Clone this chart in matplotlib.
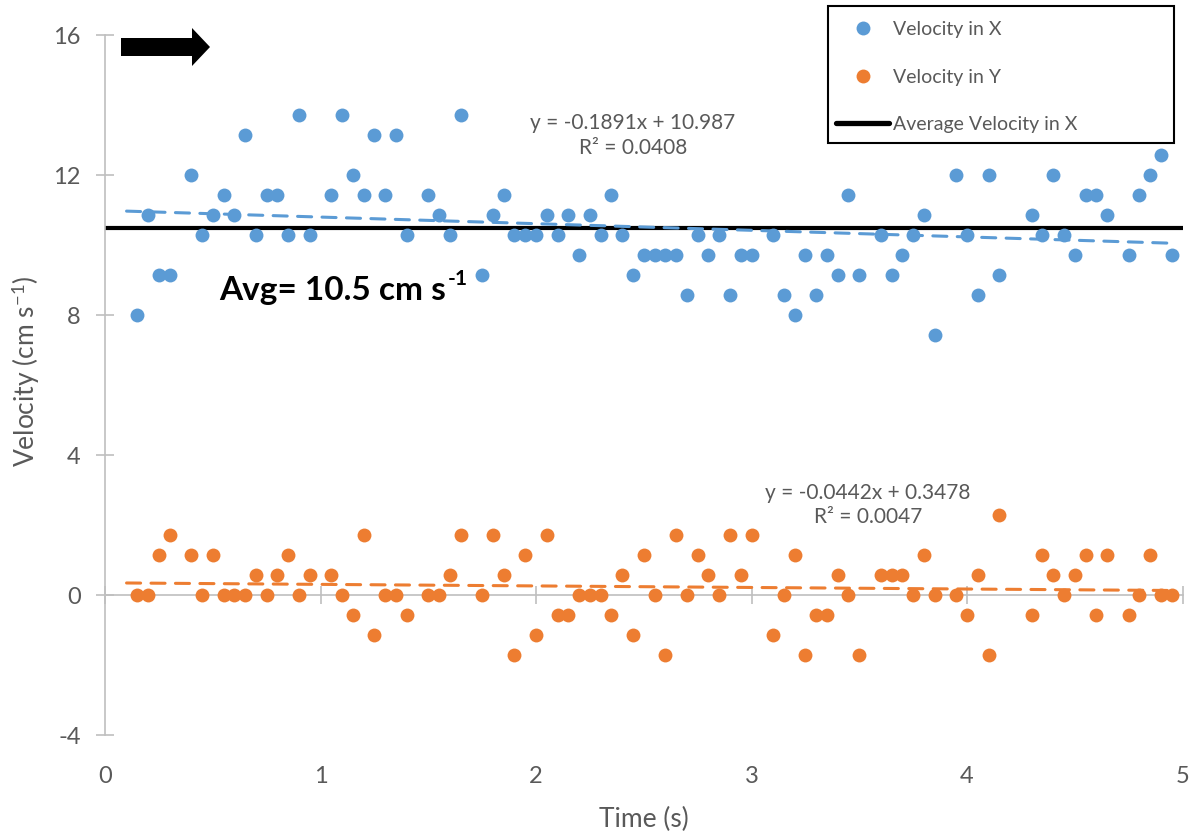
import numpy as np
import matplotlib
matplotlib.use("Agg")
import matplotlib.pyplot as plt
from matplotlib.lines import Line2D
from matplotlib.patches import FancyArrow, Rectangle

# time stamps (s) shared by both velocity components
time_s = [0.15, 0.2, 0.25, 0.3, 0.4, 0.45, 0.5, 0.55, 0.6, 0.65, 0.7, 0.75, 0.8, 0.85,
          0.9, 0.95, 1.05, 1.1, 1.15, 1.2, 1.25, 1.3, 1.35, 1.4, 1.5, 1.55, 1.6, 1.65,
          1.75, 1.8, 1.85, 1.9, 1.95, 2.0, 2.05, 2.1, 2.15, 2.2, 2.25, 2.3, 2.35, 2.4,
          2.45, 2.5, 2.55, 2.6, 2.65, 2.7, 2.75, 2.8, 2.85, 2.9, 2.95, 3.0, 3.1, 3.15,
          3.2, 3.25, 3.3, 3.35, 3.4, 3.45, 3.5, 3.6, 3.65, 3.7, 3.75, 3.8, 3.85, 3.95,
          4.0, 4.05, 4.1, 4.15, 4.3, 4.35, 4.4, 4.45, 4.5, 4.55, 4.6, 4.65, 4.75, 4.8,
          4.85, 4.9, 4.95]

vel_x = [8.0, 10.86, 9.14, 9.14, 12.0, 10.29, 10.86, 11.43, 10.86, 13.14, 10.29, 11.43,
         11.43, 10.29, 13.71, 10.29, 11.43, 13.71, 12.0, 11.43, 13.14, 11.43, 13.14, 10.29,
         11.43, 10.86, 10.29, 13.71, 9.14, 10.86, 11.43, 10.29, 10.29, 10.29, 10.86, 10.29,
         10.86, 9.71, 10.86, 10.29, 11.43, 10.29, 9.14, 9.71, 9.71, 9.71, 9.71, 8.57,
         10.29, 9.71, 10.29, 8.57, 9.71, 9.71, 10.29, 8.57, 8.0, 9.71, 8.57, 9.71, 9.14,
         11.43, 9.14, 10.29, 9.14, 9.71, 10.29, 10.86, 7.43, 12.0, 10.29, 8.57, 12.0, 9.14,
         10.86, 10.29, 12.0, 10.29, 9.71, 11.43, 11.43, 10.86, 9.71, 11.43, 12.0, 12.57,
         9.71]

vel_y = [0.0, 0.0, 1.14, 1.71, 1.14, 0.0, 1.14, 0.0, 0.0, 0.0, 0.57, 0.0, 0.57, 1.14,
         0.0, 0.57, 0.57, 0.0, -0.57, 1.71, -1.14, 0.0, 0.0, -0.57, 0.0, 0.0, 0.57, 1.71,
         0.0, 1.71, 0.57, -1.71, 1.14, -1.14, 1.71, -0.57, -0.57, 0.0, 0.0, 0.0, -0.57,
         0.57, -1.14, 1.14, 0.0, -1.71, 1.71, 0.0, 1.14, 0.57, 0.0, 1.71, 0.57, 1.71,
         -1.14, 0.0, 1.14, -1.71, -0.57, -0.57, 0.57, 0.0, -1.71, 0.57, 0.57, 0.57, 0.0,
         1.14, 0.0, 0.0, -0.57, 0.57, -1.71, 2.29, -0.57, 1.14, 0.57, 0.0, 0.57, 1.14,
         -0.57, 1.14, -0.57, 0.0, 1.14, 0.0, 0.0]

avg_vx = 10.5

# linear fits (slope, intercept, R^2)
fit_x = (-0.1891, 10.987, 0.0408)
fit_y = (-0.0442, 0.3478, 0.0047)
fit_range = (0.1, 4.95)

xticks = [0, 1, 2, 3, 4, 5]
yticks = [-4, 0, 4, 8, 12, 16]

BLUE = "#5B9BD5"
ORANGE = "#ED7D31"
AXIS_GRAY = "#BFBFBF"
TEXT_GRAY = "#595959"

plt.rcParams["font.family"] = ["Lato", "DejaVu Sans"]
plt.rcParams["mathtext.fontset"] = "custom"
plt.rcParams["mathtext.rm"] = "Lato"
plt.rcParams["mathtext.it"] = "Lato:italic"
plt.rcParams["mathtext.bf"] = "Lato:bold"

W, H = 1194, 834
fig = plt.figure(figsize=(W / 100, H / 100), dpi=100)
ax = fig.add_axes([105 / W, 1 - 735 / H, (1182.5 - 105) / W, 700 / H])

ax.set_xlim(0, 5)
ax.set_ylim(-4, 16)

# average line and trendlines
ax.axhline(avg_vx, color="black", lw=3.0, zorder=2)
fx = np.array(fit_range)
for (m, b, _), c in ((fit_x, BLUE), (fit_y, ORANGE)):
    ax.plot(fx, m * fx + b, color=c, lw=2.2, dashes=(4.6, 3.4),
            dash_capstyle="round", zorder=3)

ax.plot(time_s, vel_x, "o", color=BLUE, ms=10, mec="none", zorder=4)
ax.plot(time_s, vel_y, "o", color=ORANGE, ms=10, mec="none", zorder=4)

# axes styling
for s in ("top", "right", "bottom"):
    ax.spines[s].set_visible(False)
ax.spines["left"].set_color(AXIS_GRAY)
ax.spines["left"].set_linewidth(1.2)
ax.set_yticks(yticks)
ax.set_yticklabels([str(v) for v in yticks])
ax.tick_params(axis="y", direction="inout", length=13, width=1.2, color=AXIS_GRAY,
               labelcolor=TEXT_GRAY, labelsize=17, pad=11)
ax.set_xticks(xticks)
ax.set_xticklabels([str(v) for v in xticks])
ax.tick_params(axis="x", length=0, labelcolor=TEXT_GRAY, labelsize=17, pad=22)

# horizontal axis drawn through y = 0
zero_frac = (0 - yticks[0]) / (yticks[-1] - yticks[0])
sec = ax.secondary_xaxis(zero_frac)
sec.set_xticks(xticks)
sec.spines["bottom"].set_color(AXIS_GRAY)
sec.spines["bottom"].set_linewidth(1.2)
sec.tick_params(axis="x", direction="inout", length=13, width=1.2, color=AXIS_GRAY,
                labelbottom=False)

ax.set_xlabel("Time (s)", color=TEXT_GRAY, fontsize=19, labelpad=15)
ax.set_ylabel(r"Velocity (cm s$^{-1}$)", color=TEXT_GRAY, fontsize=19)
ax.yaxis.label.set_va("center")
ax.yaxis.set_label_coords(-0.073, 0.52)

# trendline equations
for (m, b, r2), tx, ty in ((fit_x, 2.45, 13.13), (fit_y, 3.54, 2.57)):
    ax.text(tx, ty, f"y = {m:.4f}x + {b:g}\nR² = {r2:.4f}", color=TEXT_GRAY,
            fontsize=15, ha="center", va="center", linespacing=1.3, zorder=5)

avg_txt = ax.text(0.53, 8.7, "Avg= 10.5 cm s", fontsize=24, fontweight="bold",
                  color="black", ha="left", va="center")
ax.annotate("-1", xy=(1.0, 0.88), xycoords=avg_txt, xytext=(1, 0),
            textcoords="offset points", fontsize=15, fontweight="bold",
            color="black", ha="left", va="center")

# direction arrow
fig.patches.append(FancyArrow(121 / W, 1 - 47 / H, (210 - 121) / W, 0,
                              width=18 / H, head_width=38 / H, head_length=18 / W,
                              length_includes_head=True, transform=fig.transFigure,
                              color="black", lw=0))

# legend
handles = [
    Line2D([], [], ls="none", marker="o", ms=10, color=BLUE, mec="none"),
    Line2D([], [], ls="none", marker="o", ms=10, color=ORANGE, mec="none"),
    Line2D([], [], color="black", lw=3.8, solid_capstyle="round"),
]
labels = ["Velocity in X", "Velocity in Y", "Average Velocity in X"]
leg = fig.legend(handles, labels, loc="upper left", bbox_to_anchor=(830 / W, 1 - 15 / H),
                 frameon=False, fontsize=14, labelcolor=TEXT_GRAY, handlelength=2.75,
                 handletextpad=0.2, labelspacing=1.58, borderpad=0.3, borderaxespad=0)
fig.patches.append(Rectangle((828 / W, 1 - 143 / H), (1174 - 828) / W, (143 - 6) / H,
                             transform=fig.transFigure, fill=False, ec="black", lw=1.5))

fig.savefig("out.png", dpi=100)
